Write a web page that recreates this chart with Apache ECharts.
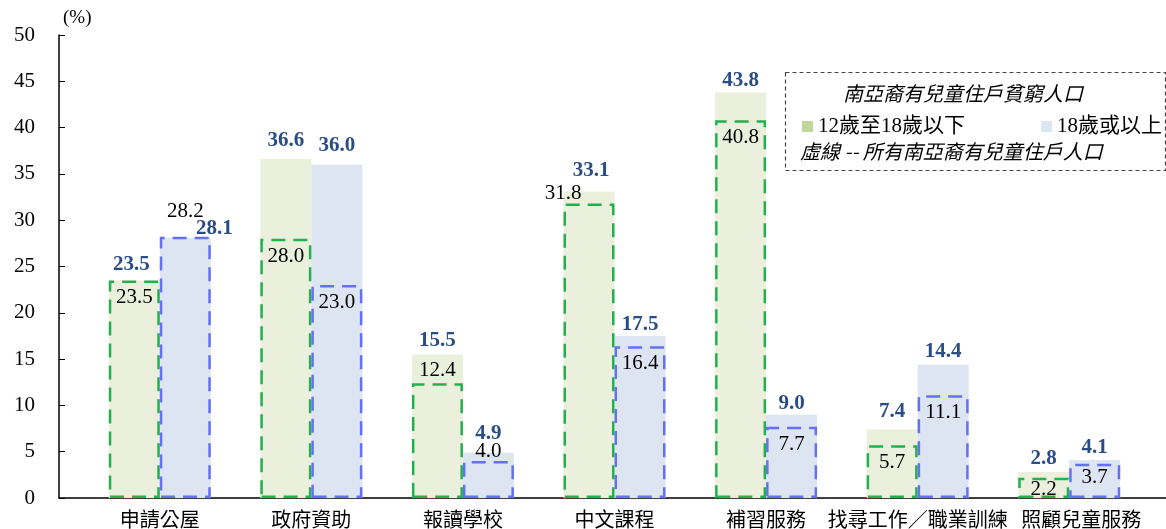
<!DOCTYPE html>
<html>
<head>
<meta charset="utf-8">
<script src="https://cdn.jsdelivr.net/npm/echarts@6/dist/echarts.min.js"></script>
<style>
html,body{margin:0;padding:0;background:#fff;}
#chart{width:1166px;height:529px;}
</style>
</head>
<body>
<div id="chart"></div>
<script>
const categories = ['申請公屋','政府資助','報讀學校','中文課程','補習服務','找尋工作／職業訓練','照顧兒童服務'];
const povertyUnder18 = [23.5, 36.6, 15.5, 33.1, 43.8, 7.4, 2.8];
const poverty18Plus = [28.1, 36.0, 4.9, 17.5, 9.0, 14.4, 4.1];
const allUnder18 = [23.5, 28.0, 12.4, 31.8, 40.8, 5.7, 2.2];
const all18Plus = [28.2, 23.0, 4.0, 16.4, 7.7, 11.1, 3.7];
const yTicks = [0, 5, 10, 15, 20, 25, 30, 35, 40, 45, 50];

const legendTitle = '南亞裔有兒童住戶貧窮人口';
const legendNames = ['12歲至18歲以下', '18歲或以上'];
const legendNote = '虛線 -- 所有南亞裔有兒童住戶人口';

const SERIF = "'Liberation Serif','Times New Roman','Noto Sans CJK TC',serif";
const CJK = "'Noto Sans CJK TC','Liberation Serif',sans-serif";

// label adjustments (pixel offsets only)
const boldOffA = [[-3,-2],[0,-5],[0,0],[2,-7],[0,2],[0,-4],[0,0]];
const boldOffB = [[29,4],[0,-6],[0,-6],[0,2],[0,2],[0,0],[0,1]];

function boldData(vals, offs){
  return vals.map((v,i)=>({value:v,label:{offset:offs[i]}}));
}
function dashData(vals, special){
  return vals.map((v,i)=>{
    const s = special[i];
    return s ? {value:v,label:s} : {value:v};
  });
}
const dashSpecialA = {2:{position:'top',distance:2}, 3:{position:'top',distance:3,offset:[-26,3]}, 6:{offset:[0,-6]}};
const dashSpecialB = {0:{position:'top',distance:3,offset:[0,-12]}, 2:{position:'top',distance:-1}, 6:{offset:[0,-4]}};

const catData = categories.map((c,i)=> i===6 ? {value:c,textStyle:{padding:[0,0,0,24]}} : c);

const chart = echarts.init(document.getElementById('chart'), null, {renderer:'canvas'});
const BW = 51;
const boldLabel = {show:true,position:'top',distance:3,fontFamily:SERIF,fontWeight:'bold',fontSize:21,color:'#2a4d85',formatter:p=>p.value.toFixed(1)};
const dashLabel = {show:true,position:'insideTop',distance:7,fontFamily:SERIF,fontSize:21,color:'#000',formatter:p=>p.value.toFixed(1)};
const legendCommon = {top:111, icon:'rect', itemWidth:11, itemHeight:11, itemGap:5, selectedMode:false,
  textStyle:{fontFamily:SERIF,fontSize:21,color:'#000'}};

chart.setOption({
  animation:false,
  backgroundColor:'#fff',
  grid:[
    {left:84,right:21,top:35,bottom:31},
    {left:59,right:0,top:35,bottom:31}
  ],
  legend:[
    Object.assign({left:797, data:[{name:legendNames[0],itemStyle:{color:'#c4d79b'}}]}, legendCommon),
    Object.assign({left:1036, data:[{name:legendNames[1],itemStyle:{color:'#dce6f2'}}]}, legendCommon)
  ],
  xAxis:[
    {type:'category',gridIndex:0,data:catData,axisLine:{show:false},axisTick:{show:false},
     axisLabel:{fontFamily:CJK,fontSize:20,color:'#000',margin:11,interval:0}},
    {type:'category',gridIndex:0,data:categories,show:false},
    {type:'value',gridIndex:1,min:0,max:1,axisLine:{show:true,lineStyle:{color:'#000',width:1.5}},
     axisTick:{show:false},axisLabel:{show:false},splitLine:{show:false}}
  ],
  yAxis:[
    {type:'value',gridIndex:0,min:0,max:50,interval:5,show:false,splitLine:{show:false}},
    {type:'value',gridIndex:1,min:yTicks[0],max:yTicks[yTicks.length-1],interval:5,
     name:'(%)',nameLocation:'end',nameGap:7,
     nameTextStyle:{fontFamily:SERIF,fontSize:19,color:'#000',align:'left',padding:[0,0,0,4]},
     axisLine:{show:true,lineStyle:{color:'#000',width:1.5}},
     axisTick:{show:true,inside:true,length:6,lineStyle:{color:'#000'}},
     axisLabel:{fontFamily:SERIF,fontSize:21,color:'#000',margin:24},
     splitLine:{show:false}}
  ],
  series:[
    {name:legendNames[0],type:'bar',xAxisIndex:0,yAxisIndex:0,barWidth:BW,barGap:'0%',
     itemStyle:{color:'#ebf0dc'},label:boldLabel,z:2,data:boldData(povertyUnder18,boldOffA)},
    {name:legendNames[1],type:'bar',xAxisIndex:0,yAxisIndex:0,barWidth:BW,barGap:'0%',
     itemStyle:{color:'#dce5f1'},label:boldLabel,z:2,data:boldData(poverty18Plus,boldOffB)},
    {name:'所有12歲至18歲以下',type:'bar',xAxisIndex:1,yAxisIndex:0,barWidth:BW,barGap:'0%',
     itemStyle:{color:'rgba(0,0,0,0)',borderColor:'#22b14c',borderWidth:2.5,borderType:[14,8]},
     label:dashLabel,z:3,data:dashData(allUnder18,dashSpecialA)},
    {name:'所有18歲或以上',type:'bar',xAxisIndex:1,yAxisIndex:0,barWidth:BW,barGap:'0%',
     itemStyle:{color:'rgba(0,0,0,0)',borderColor:'#6470f5',borderWidth:2.5,borderType:[14,8]},
     label:dashLabel,z:3,data:dashData(all18Plus,dashSpecialB)}
  ],
  graphic:[
    {type:'rect',left:783,top:70,shape:{width:380,height:98},
     style:{fill:'none',stroke:'#444',lineWidth:1.2,lineDash:[4,3]},z:10},
    {type:'text',left:843,top:83,z:11,
     style:{text:legendTitle,font:"italic 20px 'Noto Sans CJK TC'",fill:'#000'}},
    {type:'text',left:800,top:141,z:11,
     style:{text:legendNote,font:"italic 20px 'Noto Sans CJK TC'",fill:'#000'}}
  ]
});
</script>
</body>
</html>
